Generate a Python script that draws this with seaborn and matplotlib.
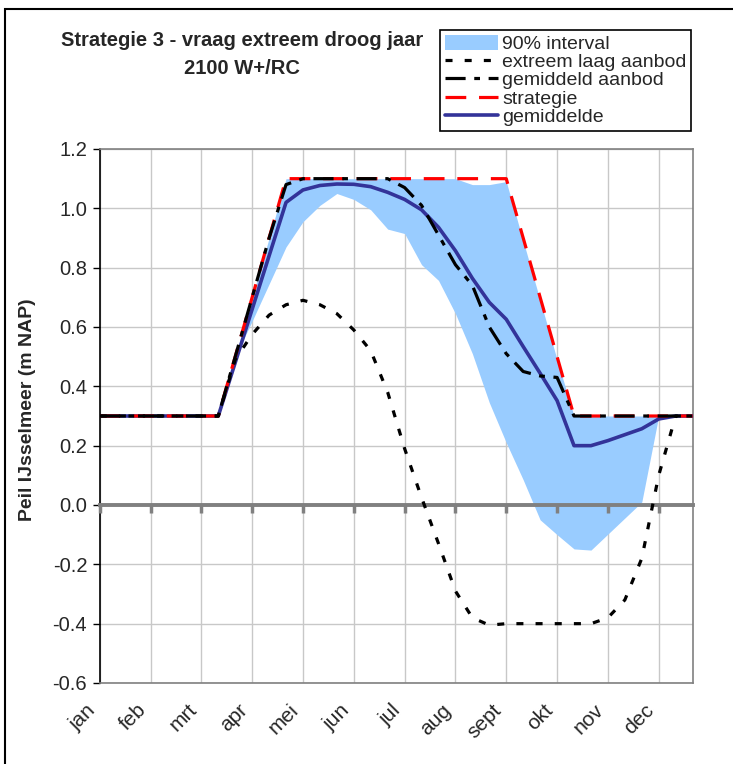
import matplotlib
matplotlib.use("Agg")
import matplotlib.pyplot as plt
import matplotlib.transforms as mtransforms
import seaborn as sns
import numpy as np
import pandas as pd
from matplotlib.patches import Rectangle, Patch
from matplotlib.lines import Line2D
from matplotlib.ticker import FormatStrFormatter

# ---------------- data (36 decades = 3 per month) ----------------
months = ["jan", "feb", "mrt", "apr", "mei", "jun", "jul", "aug", "sept", "okt", "nov", "dec"]
decade = list(range(36))

strategie = [0.3, 0.3, 0.3, 0.3, 0.3, 0.3, 0.3, 0.3, 0.5, 0.7, 0.9, 1.1,
             1.1, 1.1, 1.1, 1.1, 1.1, 1.1, 1.1, 1.1, 1.1, 1.1, 1.1, 1.1,
             1.1, 0.9, 0.7, 0.5, 0.3, 0.3, 0.3, 0.3, 0.3, 0.3, 0.3, 0.3]

gemiddelde = [0.3, 0.3, 0.3, 0.3, 0.3, 0.3, 0.3, 0.3, 0.48, 0.66, 0.84, 1.02,
              1.062, 1.077, 1.082, 1.081, 1.073, 1.054, 1.03, 0.995, 0.936, 0.857, 0.764, 0.683,
              0.626, 0.534, 0.444, 0.352, 0.2, 0.2, 0.217, 0.237, 0.257, 0.29, 0.3, 0.3]

gemiddeld_aanbod = [0.3, 0.3, 0.3, 0.3, 0.3, 0.3, 0.3, 0.3, 0.5, 0.7, 0.9, 1.08,
                    1.1, 1.1, 1.1, 1.1, 1.1, 1.1, 1.07, 1.01, 0.91, 0.81, 0.74, 0.60,
                    0.51, 0.45, 0.435, 0.43, 0.3, 0.3, 0.3, 0.3, 0.3, 0.3, 0.3, 0.3]

extreem_laag = [0.3, 0.3, 0.3, 0.3, 0.3, 0.3, 0.3, 0.3, 0.49, 0.575, 0.64, 0.675,
                0.69, 0.675, 0.645, 0.59, 0.52, 0.38, 0.19, 0.025, -0.13, -0.29, -0.38, -0.405,
                -0.40, -0.40, -0.40, -0.40, -0.40, -0.40, -0.38, -0.32, -0.18, 0.10, 0.30, 0.30]

band_lower = [0.3, 0.3, 0.3, 0.3, 0.3, 0.3, 0.3, 0.3, 0.5, 0.62, 0.745, 0.87,
              0.955, 1.01, 1.05, 1.03, 0.995, 0.93, 0.915, 0.81, 0.757, 0.645, 0.51, 0.345,
              0.21, 0.085, -0.05, -0.10, -0.148, -0.152, -0.098, -0.044, 0.01, 0.3, 0.3, 0.3]

band_upper = [0.3, 0.3, 0.3, 0.3, 0.3, 0.3, 0.3, 0.3, 0.5, 0.7, 0.9, 1.1,
              1.1, 1.1, 1.1, 1.1, 1.1, 1.1, 1.1, 1.1, 1.1, 1.1, 1.08, 1.08,
              1.09, 0.89, 0.69, 0.49, 0.3, 0.3, 0.3, 0.3, 0.3, 0.3, 0.3, 0.3]

yticks = [-0.6, -0.4, -0.2, 0.0, 0.2, 0.4, 0.6, 0.8, 1.0, 1.2]

title_lines = ["Strategie 3 - vraag extreem droog jaar", "2100 W+/RC"]
ylabel = "Peil IJsselmeer (m NAP)"
legend_labels = ["90% interval", "extreem laag aanbod", "gemiddeld aanbod", "strategie", "gemiddelde"]

df = pd.DataFrame({
    "decade": decade,
    "strategie": strategie,
    "gemiddelde": gemiddelde,
    "gemiddeld_aanbod": gemiddeld_aanbod,
    "extreem_laag": extreem_laag,
    "band_lower": band_lower,
    "band_upper": band_upper,
})

# ---------------- style ----------------
sns.set_style("white")
plt.rcParams['font.family'] = ['Liberation Sans', 'DejaVu Sans']
plt.rcParams['axes.unicode_minus'] = False

W, H = 733, 764
fig = plt.figure(figsize=(W / 100, H / 100), dpi=100)
ax = fig.add_axes([99.7 / W, 1 - 683 / H, (692.6 - 99.7) / W, (683 - 149) / H])

C_BAND = "#99CCFF"
C_MEAN = "#333399"
C_RED = "#FF0000"
LW = 2.3
LS_RED = (0, (6.5, 4.0))
LS_DASHDOT = (0, (6.3, 2.7, 1.8, 2.7))
LS_DOT = (0, (2.2, 3.8))

ax.fill_between(df["decade"], df["band_lower"], df["band_upper"], color=C_BAND, lw=0, zorder=2)
sns.lineplot(data=df, x="decade", y="gemiddelde", ax=ax, color=C_MEAN, lw=2.6,
             errorbar=None, zorder=3)
sns.lineplot(data=df, x="decade", y="strategie", ax=ax, color=C_RED, lw=LW,
             linestyle=LS_RED, errorbar=None, zorder=4)
sns.lineplot(data=df, x="decade", y="gemiddeld_aanbod", ax=ax, color="black", lw=LW,
             linestyle=LS_DASHDOT, errorbar=None, zorder=5)
sns.lineplot(data=df, x="decade", y="extreem_laag", ax=ax, color="black", lw=LW,
             linestyle=LS_DOT, errorbar=None, zorder=6)

ax.set_xlim(0, 35)
ax.set_ylim(-0.6, 1.2)
ax.set_xlabel("")
ax.set_ylabel("")

# grid & ticks
ax.set_xticks(list(range(0, 36, 3)))
ax.set_yticks(yticks)
ax.yaxis.set_major_formatter(FormatStrFormatter("%.1f"))
ax.grid(True, color="#c8c8c8", lw=1.0, zorder=1)
ax.set_axisbelow(True)
ax.tick_params(axis="x", length=0, pad=14)
ax.tick_params(axis="y", direction="out", length=5, width=1, color="black", labelsize=14.5, pad=4)
ax.yaxis.set_ticks_position("left")

for s in ["top", "right", "bottom"]:
    ax.spines[s].set_color("#808080")
    ax.spines[s].set_linewidth(1.2)
ax.spines["left"].set_color("black")
ax.spines["left"].set_linewidth(1.2)

# x axis crossing at zero (Excel style) with downward tick marks
sec = ax.secondary_xaxis(0.6 / 1.8)
sec.set_xticks(list(range(0, 36, 3)))
sec.set_xticklabels([])
sec.tick_params(axis="x", direction="out", length=6, width=2.5, color="#808080")
for s in sec.spines:
    sec.spines[s].set_visible(False)
sec.spines["bottom"].set_visible(True)
sec.spines["bottom"].set_color("#808080")
sec.spines["bottom"].set_linewidth(2.8)
sec.set_zorder(2.5)

# titles & labels
fig.text(242 / W, 1 - 41 / H, title_lines[0], ha="center", va="center",
         fontsize=14.5, fontweight="bold")
fig.text(242 / W, 1 - 69 / H, title_lines[1], ha="center", va="center",
         fontsize=14.5, fontweight="bold")
fig.text(28 / W, 1 - 410 / H, ylabel, rotation=90, ha="center", va="center",
         fontsize=14, fontweight="bold")

# legend
handles = [
    Patch(facecolor=C_BAND, edgecolor="none"),
    Line2D([], [], color="black", lw=LW, linestyle=LS_DOT),
    Line2D([], [], color="black", lw=LW, linestyle=LS_DASHDOT),
    Line2D([], [], color=C_RED, lw=LW, linestyle=LS_RED),
    Line2D([], [], color=C_MEAN, lw=2.6),
]
leg = fig.legend(handles, legend_labels, loc="upper left",
                 bbox_to_anchor=(440 / W, 1 - 30 / H), frameon=True, fancybox=False,
                 edgecolor="black", framealpha=1, fontsize=14, handlelength=2.75,
                 handletextpad=0.2, labelspacing=0.0, borderpad=0.25, borderaxespad=0,
                 handleheight=0.8)
leg.get_frame().set_linewidth(1.2)

# outer chart border (left and top visible)
fig.patches.append(Rectangle((5 / W, -0.1), 2.0, 1.1 - 9 / H, transform=fig.transFigure,
                             fill=False, edgecolor="black", lw=1.5))

# month labels, rotated and shifted left like the original
ax.set_xticklabels(months, rotation=45, ha="right", rotation_mode="anchor", fontsize=15)
offset = mtransforms.ScaledTranslation(-14 / 100, 2 / 100, fig.dpi_scale_trans)
for tick in ax.xaxis.get_major_ticks():
    tick.label1.set_transform(tick.label1.get_transform() + offset)

fig.savefig("out.png", dpi=100)
